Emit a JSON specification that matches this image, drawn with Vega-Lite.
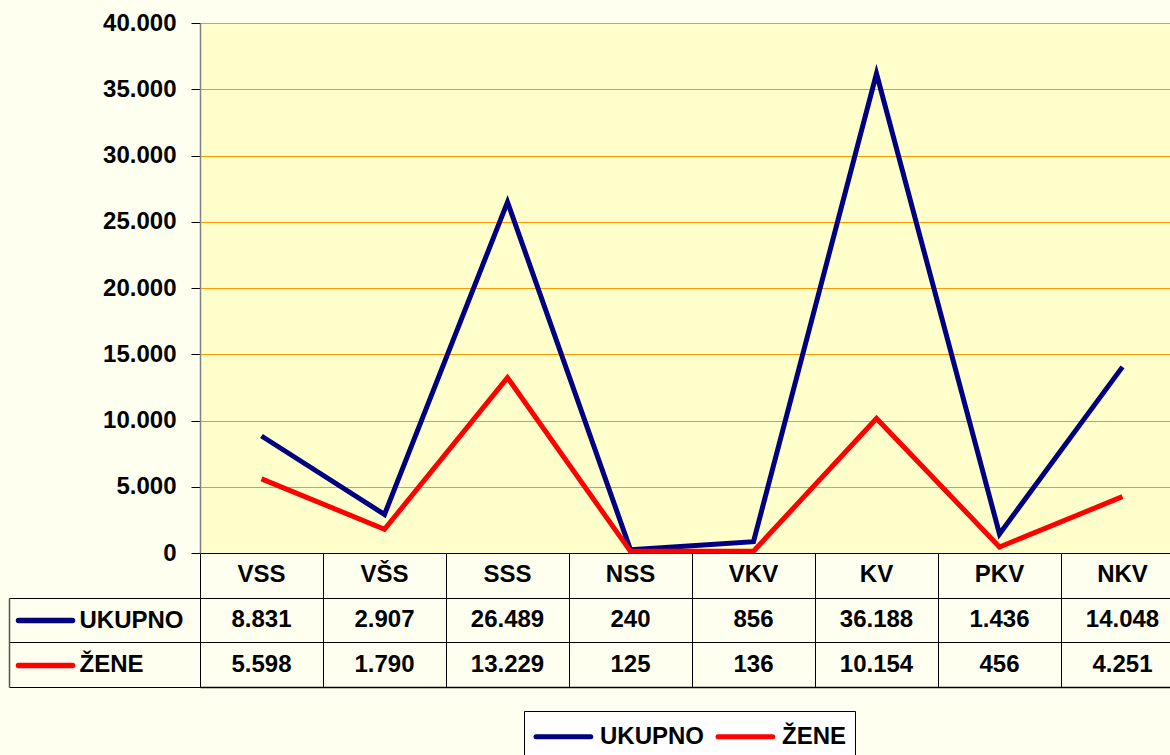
{
  "$schema": "https://vega.github.io/schema/vega-lite/v6.json",
  "usermeta": {"embedOptions": {"actions": false}},
  "background": "#FFFFF0",
  "padding": {"left": 8, "top": 11, "right": 0, "bottom": 0},
  "spacing": 0,
  "bounds": "flush",
  "config": {
    "locale": {"number": {"decimal": ",", "thousands": ".", "grouping": [3], "currency": ["", ""]}},
    "font": "Liberation Sans"
  },
  "data": {
    "values": [
      {"cat": "VSS", "series": "UKUPNO", "value": 8831},
      {"cat": "VŠS", "series": "UKUPNO", "value": 2907},
      {"cat": "SSS", "series": "UKUPNO", "value": 26489},
      {"cat": "NSS", "series": "UKUPNO", "value": 240},
      {"cat": "VKV", "series": "UKUPNO", "value": 856},
      {"cat": "KV", "series": "UKUPNO", "value": 36188},
      {"cat": "PKV", "series": "UKUPNO", "value": 1436},
      {"cat": "NKV", "series": "UKUPNO", "value": 14048},
      {"cat": "VSS", "series": "ŽENE", "value": 5598},
      {"cat": "VŠS", "series": "ŽENE", "value": 1790},
      {"cat": "SSS", "series": "ŽENE", "value": 13229},
      {"cat": "NSS", "series": "ŽENE", "value": 125},
      {"cat": "VKV", "series": "ŽENE", "value": 136},
      {"cat": "KV", "series": "ŽENE", "value": 10154},
      {"cat": "PKV", "series": "ŽENE", "value": 456},
      {"cat": "NKV", "series": "ŽENE", "value": 4251}
    ]
  },
  "vconcat": [
    {
      "width": 984,
      "height": 530,
      "view": {"fill": "#FFFFCC", "stroke": null},
      "mark": {"type": "line", "strokeWidth": 5},
      "encoding": {
        "x": {
          "field": "cat", "type": "nominal", "sort": null,
          "scale": {"type": "point", "padding": 0.5},
          "axis": {"title": null, "labels": false, "ticks": false, "grid": false, "domain": true, "domainColor": "#000000", "domainWidth": 1}
        },
        "y": {
          "field": "value", "type": "quantitative",
          "scale": {"domain": [0, 40000], "nice": false, "zero": true},
          "axis": {
            "title": null,
            "values": [0, 5000, 10000, 15000, 20000, 25000, 30000, 35000, 40000],
            "format": ",d",
            "grid": true, "gridColor": "#FF9900", "gridWidth": 1,
            "tickColor": "#000000", "tickSize": 9, "tickWidth": 1,
            "domainColor": "#808080", "domainWidth": 1.5,
            "labelFontSize": 24, "labelFontWeight": "bold", "labelColor": "#000000",
            "labelFont": "Liberation Sans", "labelPadding": 15
          }
        },
        "color": {
          "field": "series", "type": "nominal",
          "scale": {"domain": ["UKUPNO", "ŽENE"], "range": ["#000080", "#FF0000"]},
          "legend": {
            "title": null,
            "orient": "none",
            "legendX": 324,
            "legendY": 688,
            "direction": "horizontal",
            "symbolType": "M-0.9,0L2.75,0",
            "symbolSize": 900,
            "symbolStrokeWidth": 5,
            "labelFontSize": 24,
            "labelFontWeight": "bold",
            "labelFont": "Liberation Sans",
            "labelColor": "#000000",
            "labelOffset": 33,
            "columnPadding": 3,
            "padding": 8,
            "strokeColor": "#000000",
            "fillColor": "#FFFFFF",
            "encode": {"symbols": {"update": {"strokeCap": {"value": "round"}, "fill": {"value": "transparent"}}}}
          }
        }
      }
    },
    {
      "width": 984,
      "height": 134,
      "view": {"stroke": null},
      "encoding": {
        "x": {
          "field": "cat", "type": "nominal", "sort": null,
          "scale": {"type": "band", "paddingInner": 0, "paddingOuter": 0},
          "axis": {
            "title": null, "orient": "bottom", "labels": false, "ticks": false,
            "domain": true, "domainColor": "#000000", "domainWidth": 1.5,
            "grid": true, "gridColor": "#000000", "gridWidth": 1, "gridOpacity": 1,
            "bandPosition": 0
          }
        }
      },
      "layer": [
        {
          "transform": [{"filter": "datum.series === 'UKUPNO'"}],
          "mark": {"type": "text", "fontSize": 24, "fontWeight": "bold", "font": "Liberation Sans", "color": "#000000"},
          "encoding": {
            "y": {
              "datum": "hdr", "type": "nominal",
              "scale": {"domain": ["hdr", "UKUPNO", "ŽENE"], "paddingInner": 0, "paddingOuter": 0},
              "axis": {
                "title": null, "orient": "left", "values": ["UKUPNO", "ŽENE"], "tickBand": "extent",
                "offset": 191,
                "labels": false, "ticks": true, "tickSize": -191, "tickColor": "#000000", "tickWidth": 1,
                "grid": true, "gridColor": "#000000", "gridWidth": 1, "gridOpacity": 1,
                "domain": true, "domainColor": "#555555", "domainWidth": 1.5,
                "domainDash": [0, 44.7, 300]
              }
            },
            "text": {"field": "cat"}
          }
        },
        {
          "mark": {"type": "text", "fontSize": 24, "fontWeight": "bold", "font": "Liberation Sans", "color": "#000000"},
          "encoding": {
            "y": {
              "field": "series", "type": "nominal",
              "scale": {"domain": ["hdr", "UKUPNO", "ŽENE"], "paddingInner": 0, "paddingOuter": 0},
              "axis": {
                "title": null, "orient": "left", "values": ["UKUPNO", "ŽENE"], "offset": 128,
                "domain": false, "grid": false,
                "tickSize": 54, "tickWidth": 5.5, "tickCap": "round",
                "tickColor": {"condition": {"test": "datum.value === 'UKUPNO'", "value": "#000080"}, "value": "#FF0000"},
                "labelAlign": "left", "labelPadding": -61,
                "labelFontSize": 24, "labelFontWeight": "bold", "labelColor": "#000000", "labelFont": "Liberation Sans"
              }
            },
            "text": {"field": "value", "type": "quantitative", "format": ",d"}
          }
        }
      ],
      "resolve": {"scale": {"y": "independent"}, "axis": {"y": "independent"}}
    }
  ]
}
